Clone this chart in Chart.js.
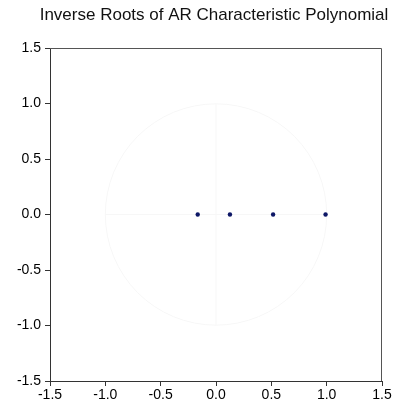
<!DOCTYPE html>
<html>
<head>
<meta charset="utf-8">
<script src="https://cdn.jsdelivr.net/npm/chart.js@4/dist/chart.umd.min.js"></script>
<style>
  html, body { margin: 0; padding: 0; background: #fff; }
  #wrap { width: 402px; height: 410px; }
</style>
</head>
<body>
<div id="wrap"><canvas id="rootsChart" width="402" height="410"></canvas></div>
<script>
const realParts = [-0.165, 0.126, 0.516, 0.99];
const imagParts = [0, 0, 0, 0];
const axisTicks = [-1.5, -1.0, -0.5, 0.0, 0.5, 1.0, 1.5];
const titleText = 'Inverse Roots of AR Characteristic Polynomial';

let points = realParts.map((re, i) => ({ x: re, y: imagParts[i] }));

// title, frame on top/right plus the (faded) unit circle and zero lines
const framePlugin = {
  id: 'frame',
  beforeDatasetsDraw(chart) {
    const c = chart.ctx, a = chart.chartArea;
    const xs = chart.scales.x, ys = chart.scales.y;
    c.save();
    c.strokeStyle = '#f7f7f7';
    c.lineWidth = 1;
    let cx = xs.getPixelForValue(0), cy = ys.getPixelForValue(0);
    let r = xs.getPixelForValue(1) - cx;
    c.beginPath();
    c.arc(cx, cy, r, 0, Math.PI * 2);
    c.stroke();
    c.beginPath();
    c.moveTo(cx, ys.getPixelForValue(1)); c.lineTo(cx, ys.getPixelForValue(-1));
    c.moveTo(xs.getPixelForValue(-1), cy); c.lineTo(xs.getPixelForValue(1), cy);
    c.stroke();
    c.strokeStyle = '#555';
    c.beginPath();
    c.moveTo(a.left, a.top + 0.5); c.lineTo(a.right - 0.5, a.top + 0.5); c.lineTo(a.right - 0.5, a.bottom);
    c.stroke();
    c.fillStyle = '#111';
    c.font = '17px "Liberation Sans", Arial, sans-serif';
    c.textAlign = 'center';
    c.textBaseline = 'middle';
    c.fillText(titleText, 214, 15);
    c.restore();
  }
};

let ctx = document.getElementById('rootsChart').getContext('2d');
let rootsChart = new Chart(ctx, {
  type: 'scatter',
  data: {
    datasets: [{
      label: 'Inverse roots',
      data: points,
      backgroundColor: '#0d1766',
      borderColor: '#0d1766',
      pointRadius: 2.2,
      borderWidth: 0
    }]
  },
  options: {
    responsive: false,
    animation: false,
    layout: { padding: { left: 0, right: 20, top: 48, bottom: 0 } },
    plugins: {
      legend: { display: false },
      tooltip: { enabled: false },
      title: { display: false }
    },
    scales: {
      x: {
        type: 'linear',
        min: -1.5, max: 1.5,
        afterBuildTicks: (s) => { s.ticks = axisTicks.map(v => ({ value: v })); },
        afterFit: (s) => { s.height = 29; },
        grid: { drawOnChartArea: false, tickLength: 5, tickColor: '#333' },
        border: { color: '#333', width: 1 },
        ticks: {
          color: '#000', padding: 1, maxRotation: 0,
          font: { family: '"Liberation Sans", Arial, sans-serif', size: 14 },
          callback: (v) => Number(v).toFixed(1)
        }
      },
      y: {
        type: 'linear',
        min: -1.5, max: 1.5,
        afterBuildTicks: (s) => { s.ticks = axisTicks.map(v => ({ value: v })); },
        afterFit: (s) => { s.width = 50; },
        grid: { drawOnChartArea: false, tickLength: 5, tickColor: '#333' },
        border: { color: '#333', width: 1 },
        ticks: {
          color: '#000', padding: 4,
          font: { family: '"Liberation Sans", Arial, sans-serif', size: 14 },
          callback: (v) => Number(v).toFixed(1)
        }
      }
    }
  },
  plugins: [framePlugin]
});
</script>
</body>
</html>
